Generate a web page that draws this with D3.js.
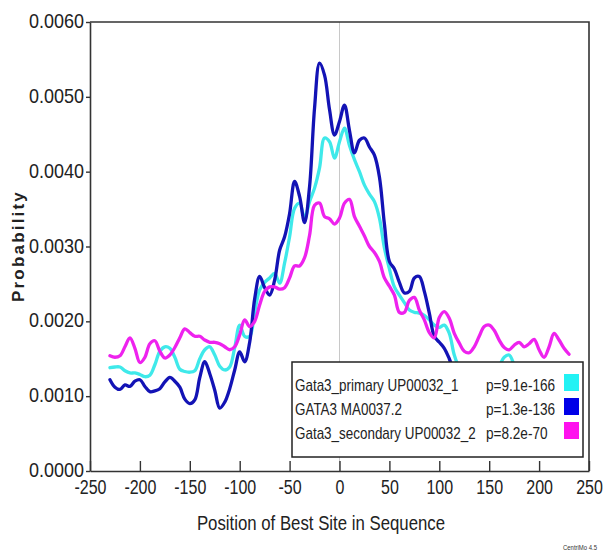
<!DOCTYPE html>
<html>
<head>
<meta charset="utf-8">
<script src="https://cdn.jsdelivr.net/npm/d3@7"></script>
<style>
  html, body { margin: 0; padding: 0; background: #fff; }
  svg { display: block; }
  .narrow { font-family: "Liberation Sans", Arial, sans-serif; }
</style>
</head>
<body>
<svg id="chart" width="605" height="552"></svg>
<script>
// ---- data ----
const positions = d3.range(-230, 231, 5);

const primaryValues = [ // Gata3_primary UP00032_1 (cyan)
  1.38,1.39,1.39,1.34,1.31,1.31,1.29,1.26,1.28,1.42,1.60,1.66,1.64,1.52,1.36,1.33,1.32,1.34,1.50,1.62,
  1.66,1.55,1.40,1.35,1.39,1.65,1.95,1.80,1.80,2.12,2.42,2.52,2.58,2.64,2.51,2.78,3.13,3.51,3.58,3.38,
  3.60,3.78,4.05,4.45,4.40,4.18,4.40,4.58,4.35,4.16,4.00,3.82,3.70,3.60,3.38,2.98,2.70,2.46,2.35,2.25,
  2.15,2.12,2.11,2.08,2.02,1.95,1.92,1.95,1.84,1.55,1.38,1.30,1.26,1.28,1.32,1.30,1.28,1.32,1.40,1.52,
  1.55,1.42,1.30,1.25,1.28,1.30,1.26,1.22,1.25,1.28,1.24,1.22,1.20
].map(v => v / 1000);

const gata3Values = [ // GATA3 MA0037.2 (blue)
  1.22,1.12,1.09,1.15,1.13,1.20,1.22,1.13,1.06,1.07,1.10,1.19,1.25,1.20,1.12,0.96,0.90,0.95,1.25,1.46,
  1.30,1.08,0.84,0.92,1.10,1.35,1.59,1.46,1.72,2.30,2.60,2.45,2.35,2.55,2.95,3.13,3.44,3.87,3.67,3.32,
  3.80,4.85,5.45,5.29,4.83,4.49,4.67,4.89,4.55,4.25,4.42,4.45,4.33,4.22,3.93,3.30,2.80,2.70,2.52,2.38,
  2.40,2.58,2.60,2.40,2.11,1.80,1.72,1.64,1.50,1.32,1.20,1.15,1.10,1.12,1.18,1.10,1.05,1.08,1.12,1.15,
  1.10,1.05,1.02,1.08,1.12,1.10,1.05,1.02,1.00,1.05,1.08,1.02,1.00
].map(v => v / 1000);

const secondaryValues = [ // Gata3_secondary UP00032_2 (magenta)
  1.54,1.52,1.54,1.66,1.78,1.64,1.45,1.52,1.70,1.74,1.60,1.51,1.55,1.65,1.78,1.90,1.85,1.80,1.80,1.75,
  1.72,1.72,1.70,1.66,1.62,1.66,1.82,2.02,1.93,2.00,2.22,2.40,2.46,2.46,2.43,2.45,2.58,2.74,2.74,2.85,
  3.15,3.55,3.58,3.40,3.37,3.30,3.38,3.58,3.63,3.40,3.27,3.14,3.00,2.92,2.80,2.58,2.47,2.35,2.12,2.12,
  2.28,2.32,2.15,2.02,1.85,1.78,2.05,2.13,2.04,1.84,1.71,1.60,1.58,1.66,1.80,1.93,1.95,1.88,1.75,1.65,
  1.62,1.68,1.72,1.66,1.70,1.76,1.62,1.52,1.66,1.84,1.75,1.64,1.56
].map(v => v / 1000);

const seriesNames = ["Gata3_primary UP00032_1", "GATA3 MA0037.2", "Gata3_secondary UP00032_2"];
const seriesPvals = ["p=9.1e-166", "p=1.3e-136", "p=8.2e-70"];
const lineColors = ["#3fe9ea", "#1313b5", "#ee22ee"];
const swatchColors = ["#22f2f4", "#0000e8", "#ff11ee"];
const xTicks = [-250, -200, -150, -100, -50, 0, 50, 100, 150, 200, 250];
const yTicks = [0, 0.001, 0.002, 0.003, 0.004, 0.005, 0.006];

// ---- chart ----
const svg = d3.select("#chart");
const pL = 90, pR = 589, pT = 22, pB = 471;
const x = d3.scaleLinear().domain([-250, 250]).range([pL, pR]);
const y = d3.scaleLinear().domain([0, 0.006]).range([pB, pT]);

// condense text horizontally about its own x anchor (narrow font look)
function condense(sel, f) {
  sel.each(function () {
    const ax = +(this.getAttribute("x") || 0);
    d3.select(this).attr("transform", `translate(${ax},0) scale(${f},1) translate(${-ax},0)`);
  });
}

// zero line
svg.append("line")
  .attr("x1", x(0)).attr("x2", x(0)).attr("y1", pT).attr("y2", pB)
  .attr("stroke", "#c8c8c8").attr("stroke-width", 1);

// lines
const line = d3.line()
  .x((d, i) => x(positions[i]))
  .y(d => y(d))
  .curve(d3.curveCatmullRom.alpha(0.5));

[primaryValues, gata3Values, secondaryValues].forEach((vals, i) => {
  svg.append("path")
    .attr("d", line(vals))
    .attr("fill", "none")
    .attr("stroke", lineColors[i])
    .attr("stroke-width", 3.3)
    .attr("stroke-linejoin", "round")
    .attr("stroke-linecap", "round");
});

// frame
svg.append("path")
  .attr("d", `M${pL},${pT}H${pR}V${pB}`)
  .attr("fill", "none").attr("stroke", "#333").attr("stroke-width", 1.6);

// x axis (ticks inward)
const xAxis = svg.append("g")
  .attr("transform", `translate(0,${pB})`)
  .call(d3.axisBottom(x).tickValues(xTicks).tickFormat(d => String(d))
    .tickSizeInner(-10).tickSizeOuter(0).tickPadding(9));
xAxis.select(".domain").attr("stroke", "#333").attr("stroke-width", 1.6);
xAxis.selectAll(".tick line").attr("stroke", "#333").attr("stroke-width", 1.4);
xAxis.selectAll("text")
  .attr("class", "narrow")
  .attr("font-size", 20).attr("fill", "#222");
condense(xAxis.selectAll("text"), 0.8);

// y axis
const yAxis = svg.append("g")
  .attr("transform", `translate(${pL},0)`)
  .call(d3.axisLeft(y).tickValues(yTicks).tickFormat(d3.format(".4f")).tickSizeInner(4).tickSizeOuter(0).tickPadding(2));
yAxis.select(".domain").attr("stroke", "#333").attr("stroke-width", 1.6);
yAxis.selectAll(".tick line").attr("stroke", "#333").attr("stroke-width", 1.4);
yAxis.selectAll("text")
  .attr("class", "narrow")
  .attr("font-size", 20).attr("fill", "#222")
  .attr("dy", "0.28em");
condense(yAxis.selectAll("text"), 0.9);

// axis titles
const xt = svg.append("text")
  .attr("class", "narrow")
  .attr("x", 321).attr("y", 530)
  .attr("text-anchor", "middle")
  .attr("font-size", 20).attr("fill", "#222")
  .text("Position of Best Site in Sequence");
condense(xt, 0.84);

svg.append("text")
  .attr("transform", "translate(24,246) rotate(-90)")
  .attr("text-anchor", "middle")
  .attr("font-family", "Liberation Sans, Arial, sans-serif")
  .attr("font-weight", "bold")
  .attr("font-size", 17)
  .attr("letter-spacing", 2.2)
  .attr("fill", "#222")
  .text("Probability");

// legend
const lg = svg.append("g");
lg.append("rect")
  .attr("x", 292).attr("y", 362).attr("width", 291).attr("height", 95)
  .attr("fill", "#fff").attr("stroke", "#222").attr("stroke-width", 1.5);
seriesNames.forEach((name, i) => {
  const yy = 391 + i * 24;
  const t1 = lg.append("text").attr("class", "narrow")
    .attr("x", 295).attr("y", yy)
    .attr("font-size", 16).attr("fill", "#222").text(name);
  condense(t1, 0.84);
  const t2 = lg.append("text").attr("class", "narrow")
    .attr("x", 486).attr("y", yy)
    .attr("font-size", 16).attr("fill", "#222").text(seriesPvals[i]);
  condense(t2, 0.85);
  lg.append("rect")
    .attr("x", 564).attr("y", yy - 17).attr("width", 15).attr("height", 17)
    .attr("fill", swatchColors[i]);
});

// credit
const ct = svg.append("text")
  .attr("class", "narrow")
  .attr("x", 563).attr("y", 550)
  .attr("font-size", 7).attr("fill", "#333")
  .text("CentriMo 4.5");
condense(ct, 0.85);
</script>
</body>
</html>
